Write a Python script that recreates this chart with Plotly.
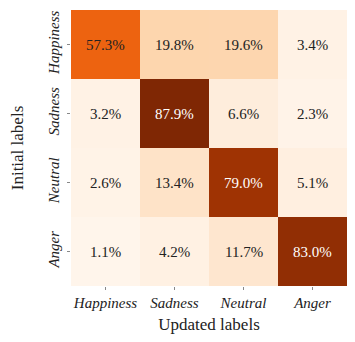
import plotly.graph_objects as go

labels = ["Happiness", "Sadness", "Neutral", "Anger"]
# rows = initial labels, cols = updated labels (percent)
happiness_row = [57.3, 19.8, 19.6, 3.4]
sadness_row = [3.2, 87.9, 6.6, 2.3]
neutral_row = [2.6, 13.4, 79.0, 5.1]
anger_row = [1.1, 4.2, 11.7, 83.0]
z = [happiness_row, sadness_row, neutral_row, anger_row]

serif = "Liberation Serif"

fig = go.Figure(go.Heatmap(
    z=z, x=labels, y=labels,
    colorscale="Oranges", zmin=1.1, zmax=87.9,
    showscale=False, hoverinfo="skip",
))

zmax = max(max(r) for r in z)
for i, row in enumerate(z):
    for j, v in enumerate(row):
        fig.add_annotation(
            x=labels[j], y=labels[i], text=f"{v:.1f}%", showarrow=False,
            font=dict(family=serif, size=15,
                      color="white" if v > 0.75 * zmax else "#222222"),
        )

fig.update_xaxes(
    title=dict(text="Updated labels", font=dict(family=serif, size=17, color="#222"), standoff=24),
    tickfont=dict(family=serif, size=15, style="italic", color="#222"),
    ticks="outside", ticklen=3, tickcolor="#888", ticklabelstandoff=0,
    showgrid=False, zeroline=False, automargin=False,
)
fig.update_yaxes(
    title=dict(text="Initial labels", font=dict(family=serif, size=17, color="#222"), standoff=30),
    tickfont=dict(family=serif, size=15, style="italic", color="#222"),
    tickangle=-90, autorange="reversed",
    ticks="outside", ticklen=3, tickcolor="#888", ticklabelstandoff=2,
    showgrid=False, zeroline=False, automargin=False,
)
fig.update_layout(
    width=339, height=326,
    margin=dict(l=63, r=0, t=2, b=48),
    plot_bgcolor="white", paper_bgcolor="white",
)
fig.write_html("out.html")
